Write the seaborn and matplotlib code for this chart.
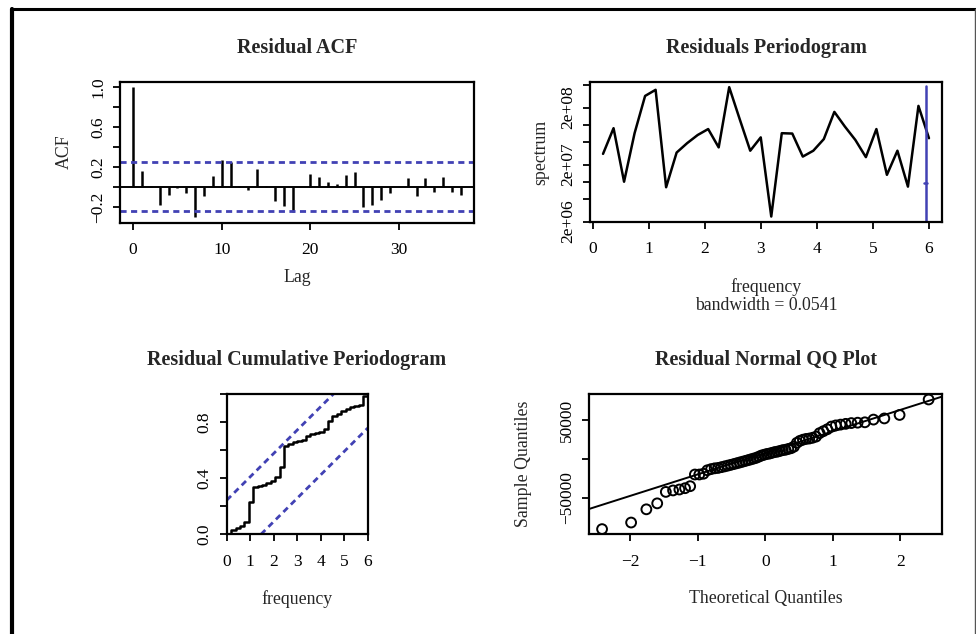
import numpy as np
import pandas as pd
import seaborn as sns
import matplotlib.pyplot as plt
from matplotlib.lines import Line2D
from statistics import NormalDist

# ##############################################################################
# # values
# ##############################################################################

# residual ACF
acf_lags = list(range(38))
acf_values = [1.0, 0.162, 0.005, -0.176, -0.077, -0.01, -0.06, -0.305, -0.093, 0.112,
              0.265, 0.252, 0.01, -0.033, 0.182, 0.005, -0.143, -0.193, -0.249, 0.002,
              0.129, 0.102, 0.053, 0.033, 0.122, 0.145, -0.199, -0.176, -0.126, -0.06,
              0.002, 0.092, -0.093, 0.086, -0.053, 0.099, -0.05, -0.083]
acf_clim = 0.245

# residuals periodogram
spec_freq = [0.1875, 0.375, 0.5625, 0.75, 0.9375, 1.125, 1.3125, 1.5, 1.6875, 1.875,
             2.0625, 2.25, 2.4375, 2.625, 2.8125, 3.0, 3.1875, 3.375, 3.5625, 3.75,
             3.9375, 4.125, 4.3125, 4.5, 4.6875, 4.875, 5.0625, 5.25, 5.4375, 5.625,
             5.8125, 6.0]
spec_values = [3.08e7, 8.7e7, 1.0e7, 7.1e7, 3.2e8, 4.1e8, 8.0e6, 3.25e7, 4.75e7, 6.6e7,
               8.4e7, 4.0e7, 4.56e8, 1.25e8, 3.5e7, 6.0e7, 2.45e6, 7.1e7, 7.0e7, 2.76e7,
               3.5e7, 5.6e7, 1.68e8, 9.3e7, 5.4e7, 2.7e7, 8.4e7, 1.32e7, 3.5e7, 8.2e6,
               2.14e8, 5.8e7]
bw_x = 5.94
bw_y = 9.4e6
bw_ci = [1.5e6, 4.8e8]
bandwidth = 0.0541

# residual cumulative periodogram
cum_freq = [0.0, 0.1875, 0.375, 0.5625, 0.75, 0.9375, 1.125, 1.3125, 1.5, 1.6875, 1.875,
            2.0625, 2.25, 2.4375, 2.625, 2.8125, 3.0, 3.1875, 3.375, 3.5625, 3.75,
            3.9375, 4.125, 4.3125, 4.5, 4.6875, 4.875, 5.0625, 5.25, 5.4375, 5.625,
            5.8125, 6.0]
cum_values = [0.0, 0.03, 0.048, 0.062, 0.086, 0.233, 0.34, 0.342, 0.352, 0.369, 0.383,
              0.407, 0.483, 0.631, 0.645, 0.655, 0.664, 0.674, 0.702, 0.712, 0.721,
              0.731, 0.75, 0.805, 0.845, 0.86, 0.876, 0.893, 0.905, 0.912, 0.924,
              0.988, 1.0]
cum_crit = 0.243
cum_xmax = 6.0

# residuals (sorted sample quantiles) for the normal QQ plot
residuals = [-90600, -82100, -65000, -57300, -42500, -40600, -39400, -37700,
             -35100, -20000, -20000, -19000, -14500, -13000, -12000, -11500,
             -10500, -9500, -8500, -7500, -6500, -5500, -4500, -3500,
             -2500, -1500, -500, 500, 1500, 3000, 4500, 5500,
             6500, 7000, 8000, 9000, 9500, 10500, 11500, 12000,
             13000, 14000, 16000, 21000, 23500, 25000, 26000, 26500,
             27500, 29000, 33500, 36000, 38500, 42000, 43500, 44500,
             45500, 46500, 47000, 47500, 51000, 52500, 57000, 77000]

# ##############################################################################
# # figure
# ##############################################################################

sns.set_theme(style="ticks")
plt.rcParams['font.family'] = ['Liberation Serif', 'DejaVu Serif']
plt.rcParams['axes.edgecolor'] = 'black'
plt.rcParams['xtick.color'] = 'black'
plt.rcParams['ytick.color'] = 'black'
plt.rcParams['axes.unicode_minus'] = True

W, H = 976, 634
fig = plt.figure(figsize=(W / 100, H / 100), dpi=100, facecolor='white')

TICK_FS = 12.5
LAB_FS = 12.8
TITLE_FS = 14.5
BLUE = '#4141b4'
DASH = (0, (2.2, 1.6))


def rect(l, t, r, b):
    return [l / W, 1 - b / H, (r - l) / W, (b - t) / H]


def ftext(x, y, s, **kw):
    fig.text(x / W, 1 - y / H, s, ha='center', va='center', **kw)


def r_range(vals, ext=0.04):
    # R style axis range: data range stretched by 4% each side
    lo, hi = min(vals), max(vals)
    d = (hi - lo) * ext
    return lo - d, hi + d


def style_axes(ax):
    for sp in ax.spines.values():
        sp.set_visible(True)
        sp.set_linewidth(1.6)
        sp.set_color('black')
    ax.tick_params(direction='out', length=5, width=1.3, labelsize=TICK_FS)
    ax.tick_params(axis='x', pad=9)
    ax.tick_params(axis='y', pad=5)
    for lab in ax.get_yticklabels():
        lab.set_rotation(90)
        lab.set_va('center')
    ax.set_xlabel('')
    ax.set_ylabel('')
    ax.grid(False)


# --- Residual ACF
ax1 = fig.add_axes(rect(120, 81.7, 474, 222.7))
ax1.vlines(acf_lags, 0, acf_values, color='black', lw=1.8)
ax1.axhline(0, color='black', lw=1.4)
for c in (acf_clim, -acf_clim):
    ax1.axhline(c, color=BLUE, lw=2, ls=DASH)
ax1.set_xlim(*r_range(acf_lags))
ax1.set_ylim(*r_range(acf_values + [acf_clim, -acf_clim]))
ax1.set_xticks([0, 10, 20, 30])
ax1.set_yticks([-0.2, 0.0, 0.2, 0.4, 0.6, 0.8, 1.0])
ax1.set_yticklabels(['\u22120.2', '', '0.2', '', '0.6', '', '1.0'])
style_axes(ax1)

# --- Residuals Periodogram
ax2 = fig.add_axes(rect(590, 82, 942, 221.7))
sns.lineplot(x=spec_freq, y=spec_values, ax=ax2, color='black', lw=1.8, sort=False)
ax2.set_yscale('log')
ax2.set_xlim(*r_range(spec_freq))
lo, hi = r_range(list(np.log10(spec_values)))
ax2.plot([bw_x, bw_x], bw_ci, color=BLUE, lw=1.8)
ax2.plot([bw_x - bandwidth / 2, bw_x + bandwidth / 2], [bw_y, bw_y], color=BLUE, lw=1.8)
ax2.set_xticks([0, 1, 2, 3, 4, 5, 6])
ax2.set_yticks([2e6, 5e6, 1e7, 2e7, 5e7, 1e8, 2e8, 5e8])
ax2.set_yticklabels(['2e+06', '', '', '2e+07', '', '', '2e+08', ''])
ax2.minorticks_off()
ax2.set_ylim(10 ** lo, 10 ** hi)
style_axes(ax2)

# --- Residual Cumulative Periodogram
ax3 = fig.add_axes(rect(226.7, 394, 367.7, 534.3))
sns.lineplot(x=cum_freq, y=cum_values, ax=ax3, color='black', lw=1.8,
             drawstyle='steps-post', sort=False)
ax3.plot([0, cum_xmax * (1 - cum_crit)], [cum_crit, 1], color=BLUE, lw=2, ls=DASH)
ax3.plot([cum_xmax * cum_crit, cum_xmax], [0, 1 - cum_crit], color=BLUE, lw=2, ls=DASH)
ax3.set_xlim(0, cum_xmax)
ax3.set_ylim(0, 1)
ax3.set_xticks([0, 1, 2, 3, 4, 5, 6])
ax3.set_yticks([0.0, 0.2, 0.4, 0.6, 0.8, 1.0])
ax3.set_yticklabels(['0.0', '', '0.4', '', '0.8', ''])
style_axes(ax3)

# --- Residual Normal QQ Plot
n = len(residuals)
nd = NormalDist()
theo = [nd.inv_cdf((i + 0.5) / n) for i in range(n)]
qq = pd.DataFrame({'theoretical': theo, 'sample': sorted(residuals)})

ax4 = fig.add_axes(rect(589, 394.3, 941.7, 534.3))
sns.scatterplot(data=qq, x='theoretical', y='sample', ax=ax4, marker='o', s=50,
                facecolor='none', edgecolor='black', linewidth=1.4)
ax4.set_xlim(*r_range(theo))
ax4.set_ylim(*r_range(residuals))
q1, q3 = np.quantile(qq['sample'], [0.25, 0.75])
z1, z3 = nd.inv_cdf(0.25), nd.inv_cdf(0.75)
slope = (q3 - q1) / (z3 - z1)
ax4.axline((0, q1 - slope * z1), slope=slope, color='black', lw=1.4)
ax4.set_xticks([-2, -1, 0, 1, 2])
ax4.set_xticklabels(['\u22122', '\u22121', '0', '1', '2'])
ax4.set_yticks([-50000, 0, 50000])
ax4.set_yticklabels(['\u221250000', '', '50000'])
style_axes(ax4)

# --- titles and axis labels
ftext(297, 48, 'Residual ACF', fontsize=TITLE_FS, fontweight='bold')
ftext(766, 48, 'Residuals Periodogram', fontsize=TITLE_FS, fontweight='bold')
ftext(297, 360, 'Residual Cumulative Periodogram', fontsize=TITLE_FS, fontweight='bold')
ftext(766, 360, 'Residual Normal QQ Plot', fontsize=TITLE_FS, fontweight='bold')

ftext(297, 278, 'Lag', fontsize=LAB_FS)
ftext(64, 152, 'ACF', fontsize=LAB_FS, rotation=90)
ftext(766, 287, 'frequency', fontsize=LAB_FS)
ftext(766, 305, 'bandwidth = 0.0541', fontsize=LAB_FS)
ftext(541, 152, 'spectrum', fontsize=LAB_FS, rotation=90)
ftext(297, 599, 'frequency', fontsize=LAB_FS)
ftext(766, 599, 'Theoretical Quantiles', fontsize=LAB_FS)
ftext(524, 464, 'Sample Quantiles', fontsize=LAB_FS, rotation=90)

# --- outer frame of the picture
fig.add_artist(Line2D([12 / W, 12 / W], [0, 1 - 8.5 / H], color='black', lw=3,
                      transform=fig.transFigure))
fig.add_artist(Line2D([10.5 / W, 1], [1 - 8.5 / H, 1 - 8.5 / H], color='black', lw=2.2,
                      transform=fig.transFigure))
fig.add_artist(Line2D([975 / W, 975 / W], [0, 1 - 8.5 / H], color='#555555', lw=1,
                      transform=fig.transFigure))

fig.savefig('out.png', dpi=100, facecolor='white')
